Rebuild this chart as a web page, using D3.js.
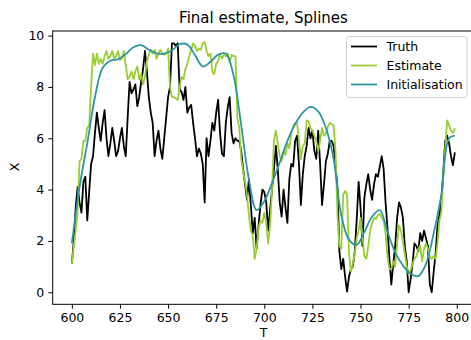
<!DOCTYPE html>
<html>
<head>
<meta charset="utf-8">
<script src="https://cdn.jsdelivr.net/npm/d3@7"></script>
<style>
  html, body { margin: 0; padding: 0; background: #fff; }
  svg { display: block; font-family: "DejaVu Sans", sans-serif; }
</style>
</head>
<body>
<svg id="chart" width="471" height="340"></svg>
<script>
// Time steps 600..799
const tStart = 600;

const truth = [
  1.1, 2.0, 3.3, 4.1, 3.5, 3.1, 4.3, 4.5, 2.8, 3.9,
  5.0, 5.3, 6.2, 7.0, 6.4, 5.9, 6.6, 7.1, 6.0, 5.3,
  5.8, 6.4, 5.9, 5.3, 5.5, 6.0, 6.4, 5.7, 5.3, 6.8,
  8.2, 7.75, 7.9, 8.1, 7.25, 7.6, 8.2, 8.7, 9.4, 8.6,
  7.6, 7.0, 6.6, 5.3, 5.9, 6.3, 5.6, 5.2, 6.0, 6.8,
  7.6, 8.0, 9.7, 9.7, 9.6, 9.7, 7.9, 7.8, 7.5, 8.0,
  7.0, 7.2, 7.3, 6.6, 6.0, 5.3, 5.6, 5.4, 5.0, 3.5,
  6.0, 5.3, 5.9, 6.6, 6.3, 7.0, 7.5, 6.2, 5.4, 5.3,
  6.6, 7.2, 7.6, 6.2, 5.8, 6.0, 5.9, 5.9, 5.5, 4.8,
  4.2, 3.6, 4.4, 3.4, 2.3, 2.9, 1.7, 2.6, 3.4, 4.0,
  3.9, 3.5, 2.4, 3.2, 4.0, 4.8, 5.7, 4.8, 3.5, 2.95,
  4.0, 3.3, 2.7, 4.4, 5.0, 4.9, 5.9, 6.1, 5.0, 3.4,
  4.6, 5.3, 5.7, 6.4, 6.0, 6.3, 5.5, 5.2, 6.3, 5.0,
  3.4, 4.2, 5.1, 5.4, 5.9, 5.9, 5.7, 4.9, 4.1, 1.6,
  0.9, 1.3, 0.6, 0.02, 0.6, 0.9, 1.0, 1.6, 2.8, 4.3,
  3.3, 1.8, 3.7, 4.2, 4.6, 4.0, 3.6, 4.2, 4.6, 4.5,
  4.9, 5.3, 4.8, 3.5, 2.5, 1.3, 0.3, 1.1, 1.8, 2.9,
  3.5, 3.3, 2.9, 1.8, 1.2, 0.0, 0.5, 1.1, 1.9, 1.8,
  1.6, 2.3, 2.0, 2.4, 2.1, 1.8, 0.3, 0.0, 0.8, 1.5,
  2.6, 3.0, 3.6, 4.7, 5.9, 6.1, 5.8, 5.3, 4.95, 5.45
];

const estimate = [
  1.1, 1.8, 2.4, 3.2, 5.1, 5.2, 5.9, 5.9, 6.4, 6.5,
  8.0, 9.3, 8.85, 9.3, 8.9, 9.1, 8.9, 9.2, 9.4, 9.1,
  9.2, 9.4, 9.1, 9.2, 9.4, 9.05, 9.1, 9.4, 8.85, 8.3,
  8.4, 8.6, 8.3, 8.6, 8.8, 8.3, 8.5, 8.1, 8.4, 9.0,
  9.25, 9.45, 9.3, 9.45, 9.1, 9.3, 9.45, 9.3, 9.25, 9.3,
  9.5, 8.0, 7.6, 7.6, 7.55, 7.5, 8.0, 8.4, 8.3, 8.7,
  8.9, 9.2, 9.45, 9.7, 9.6, 9.4, 9.5, 9.45, 9.7, 9.75,
  9.4, 9.2, 9.3, 8.6, 8.5, 8.9, 9.0, 9.3, 9.1, 9.25,
  9.2, 9.3, 8.95, 9.25, 9.2, 9.2, 6.8, 6.4, 5.2, 4.7,
  4.3, 3.8, 3.0, 2.4, 2.2, 1.3, 1.7, 2.5, 2.8, 2.7,
  3.1, 2.7, 1.9, 2.6, 4.0, 5.9, 6.3, 5.8, 5.3, 5.1,
  5.5, 5.35, 5.8, 5.6, 6.2, 6.45, 6.6, 6.6, 5.9, 5.2,
  5.7, 5.8, 6.7, 6.65, 6.4, 6.3, 6.1, 5.9, 5.5, 5.9,
  6.4, 6.1, 6.2, 6.45, 6.6, 6.55, 6.5, 5.5, 3.0, 1.8,
  1.7, 3.8, 3.95, 3.8, 1.5, 0.8, 1.1, 1.5, 2.1, 2.4,
  2.9, 2.2, 1.4, 1.3, 1.8, 2.4, 2.7, 2.9, 2.85, 3.0,
  3.05, 2.9, 2.8, 2.3, 1.4, 0.9, 0.9, 1.2, 1.0, 1.9,
  2.6, 2.4, 2.0, 1.5, 1.0, 0.7, 0.85, 1.1, 1.3, 1.4,
  1.7, 1.8, 1.2, 1.7, 1.9, 1.7, 1.4, 1.3, 1.4, 1.3,
  1.9, 2.8, 3.1, 4.6, 5.6, 6.7, 6.5, 6.3, 6.2, 6.4
];

// Smooth initial guess, given at its knots
const initT = [600, 604, 608, 612, 616, 620, 624, 628, 632, 636, 640, 644, 648, 652,
  656, 660, 664, 668, 672, 676, 680, 684, 688, 692, 696, 700, 704, 708, 712, 716,
  720, 724, 728, 732, 736, 740, 744, 748, 752, 756, 760, 764, 768, 772, 776, 780,
  784, 788, 792, 796, 799];
const initValues = [1.9, 4.1, 5.8, 7.6, 8.75, 9.02, 9.08, 9.28, 9.55, 9.63, 9.45, 9.31, 9.3, 9.42,
  9.67, 9.65, 9.24, 8.8, 8.98, 9.26, 9.3, 8.45, 6.5, 4.4, 3.2, 3.55, 4.25, 5.05, 5.9, 6.55,
  7.0, 7.22, 7.05, 6.4, 5.2, 3.0, 2.05, 1.85, 2.35, 2.95, 3.2, 2.35, 1.55, 1.05, 0.72, 0.63,
  1.1, 2.3, 3.8, 6.0, 6.1];

const xTicks = [600, 625, 650, 675, 700, 725, 750, 775, 800];
const yTicks = [0, 2, 4, 6, 8, 10];

const seriesNames = ["Truth", "Estimate", "Initialisation"];
const seriesColors = ["#000000", "#9acd32", "#2c96a4"];

const svg = d3.select("#chart");
const plot = { left: 52.7, right: 474, top: 31, bottom: 304.3 };

const x = d3.scaleLinear().domain([590.05, 808.95]).range([plot.left, plot.right]);
const y = d3.scaleLinear().domain([-0.47, 10.18]).range([plot.bottom, plot.top]);

svg.append("defs").append("clipPath").attr("id", "plotclip")
  .append("rect")
  .attr("x", plot.left).attr("y", plot.top)
  .attr("width", plot.right - plot.left).attr("height", plot.bottom - plot.top);

const toPoints = arr => arr.map((v, i) => [tStart + i, v]);

const stepLine = d3.line().x(d => x(d[0])).y(d => y(d[1]));
const smoothLine = d3.line().x(d => x(d[0])).y(d => y(d[1])).curve(d3.curveCatmullRom.alpha(0.5));

const lines = svg.append("g").attr("clip-path", "url(#plotclip)");
lines.append("path").datum(toPoints(truth))
  .attr("d", stepLine).attr("fill", "none")
  .attr("stroke", seriesColors[0]).attr("stroke-width", 1.8).attr("stroke-linejoin", "round");
lines.append("path").datum(toPoints(estimate))
  .attr("d", stepLine).attr("fill", "none")
  .attr("stroke", seriesColors[1]).attr("stroke-width", 1.8).attr("stroke-linejoin", "round");
lines.append("path").datum(initT.map((t, i) => [t, initValues[i]]))
  .attr("d", smoothLine).attr("fill", "none")
  .attr("stroke", seriesColors[2]).attr("stroke-width", 1.8);

// Axes
const xAxis = d3.axisBottom(x).tickValues(xTicks).tickSize(4.4).tickPadding(4);
const yAxis = d3.axisLeft(y).tickValues(yTicks).tickSize(4.4).tickPadding(4);

const gx = svg.append("g").attr("transform", `translate(0,${plot.bottom})`).call(xAxis);
const gy = svg.append("g").attr("transform", `translate(${plot.left},0)`).call(yAxis);
[gx, gy].forEach(g => {
  g.select(".domain").remove();
  g.selectAll("line").attr("stroke", "#000").attr("stroke-width", 1);
  g.selectAll("text").attr("fill", "#000").style("font-size", "12.5px")
    .style("font-family", "DejaVu Sans");
});

// Frame
svg.append("rect")
  .attr("x", plot.left).attr("y", plot.top)
  .attr("width", plot.right - plot.left).attr("height", plot.bottom - plot.top)
  .attr("fill", "none").attr("stroke", "#000").attr("stroke-width", 1);

// Title and axis labels
svg.append("text").attr("x", 263.5).attr("y", 23)
  .attr("text-anchor", "middle").style("font-size", "15px").attr("fill", "#000")
  .text("Final estimate, Splines");
svg.append("text").attr("x", 263.5).attr("y", 337)
  .attr("text-anchor", "middle").style("font-size", "12.5px").attr("fill", "#000")
  .text("T");
svg.append("text").attr("transform", "translate(19,167) rotate(-90)")
  .attr("text-anchor", "middle").style("font-size", "12.5px").attr("fill", "#000")
  .text("X");

// Legend
const legend = svg.append("g");
legend.append("rect")
  .attr("x", 346.5).attr("y", 36.5).attr("width", 120.5).attr("height", 61)
  .attr("rx", 3).attr("fill", "#fff").attr("fill-opacity", 0.8)
  .attr("stroke", "#d0d0d0").attr("stroke-width", 1);
seriesNames.forEach((name, i) => {
  const cy = 46.5 + i * 19;
  legend.append("line")
    .attr("x1", 351).attr("x2", 377).attr("y1", cy).attr("y2", cy)
    .attr("stroke", seriesColors[i]).attr("stroke-width", 1.8);
  legend.append("text")
    .attr("x", 386.5).attr("y", cy + 4.5)
    .style("font-size", "12.5px").attr("fill", "#000")
    .text(name);
});
</script>
</body>
</html>
